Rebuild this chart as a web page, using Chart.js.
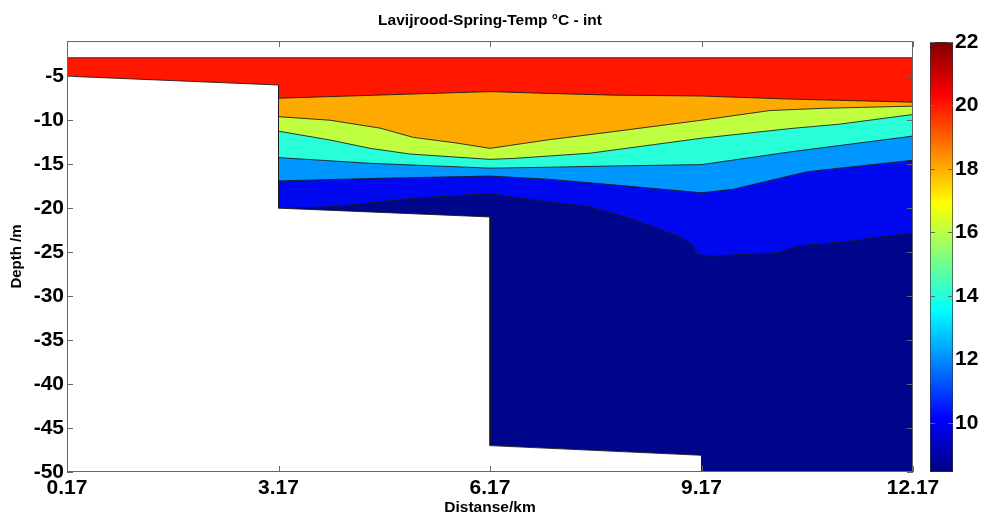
<!DOCTYPE html>
<html>
<head>
<meta charset="utf-8">
<title>Lavijrood-Spring-Temp</title>
<script src="https://cdn.jsdelivr.net/npm/chart.js@4.4.1/dist/chart.umd.min.js"></script>
<style>
  html, body { margin: 0; padding: 0; background: #fff; }
  #wrap { position: relative; width: 986px; height: 517px; }
  #section { position: absolute; left: 0; top: 0; }
  #cbar { position: absolute; left: 900px; top: 0; }
</style>
</head>
<body>
<div id="wrap">
  <canvas id="section" width="986" height="517"></canvas>
  <canvas id="cbar" width="86" height="517"></canvas>
</div>
<script>
const distTicks = [0.17, 3.17, 6.17, 9.17, 12.17];
const depthTicks = [-50, -45, -40, -35, -30, -25, -20, -15, -10, -5];

// superficie del agua
const surfaceDist = [0.17, 12.17];
const surfaceDepth = [-2.9, -2.9];

// isolíneas entre bandas de temperatura
const redOrangeDist = [3.17, 6.17, 6.98, 7.92, 9.17, 10.43, 12.17];
const redOrangeDepth = [-7.5, -6.75, -6.95, -7.15, -7.25, -7.6, -7.95];

const orangeYellowDist = [3.17, 3.90, 4.61, 5.08, 5.70, 6.17, 6.98, 7.92, 9.17, 10.14, 10.89, 12.17];
const orangeYellowDepth = [-9.6, -10.0, -10.9, -11.95, -12.6, -13.2, -12.25, -11.3, -10.0, -8.9, -8.65, -8.4];

const yellowCyanDist = [3.17, 3.90, 4.47, 5.04, 6.17, 6.50, 7.59, 9.17, 10.43, 11.13, 12.17];
const yellowCyanDepth = [-11.25, -12.25, -13.2, -13.85, -14.45, -14.35, -13.75, -12.05, -10.95, -10.45, -9.35];

const cyanLightDist = [3.17, 4.47, 6.17, 6.98, 7.92, 9.17, 10.43, 12.17];
const cyanLightDepth = [-14.25, -14.9, -15.45, -15.35, -15.2, -15.05, -13.6, -11.8];

const lightBlueDist = [3.17, 4.61, 6.17, 6.98, 7.92, 9.17, 9.62, 10.67, 12.17];
const lightBlueDepth = [-16.9, -16.6, -16.35, -16.7, -17.35, -18.25, -17.85, -15.85, -14.55];

const blueNavyDist = [3.17, 3.94, 5.04, 6.17, 6.50, 7.59, 8.16, 8.87, 9.05, 9.11, 9.33, 10.28, 10.52, 11.23, 12.17];
const blueNavyDepth = [-20.0, -19.85, -18.9, -18.35, -18.75, -19.85, -21.15, -23.25, -24.2, -25.3, -25.45, -25.05, -24.3, -23.8, -22.8];

// fondo del embalse (batimetría)
const bottomDist = [0.17, 3.17, 3.17, 6.17, 6.17, 9.17, 9.17, 12.17];
const bottomDepth = [-5.0, -6.0, -20.0, -21.0, -47.0, -48.1, -50.0, -50.0];

// barra de colores
const cbarTicks = [10, 12, 14, 16, 18, 20, 22];
const cbarMin = 8.45;
const cbarMax = 22;

// ---- Estilos ----
Chart.defaults.font.family = "'Liberation Sans', Arial, sans-serif";
Chart.defaults.color = '#000';

const jetStops = [[0, '#000080'], [0.125, '#0000ff'], [0.375, '#00ffff'], [0.625, '#ffff00'], [0.875, '#ff0000'], [1, '#800000']];
const lineColor = 'rgba(25,25,25,0.85)';
const frameColor = '#666';

function pts(xs, ys) {
    return xs.map((x, i) => ({ x: x, y: ys[i] }));
}

function band(label, xs, ys, color, order) {
    return {
        label: label,
        data: pts(xs, ys),
        order: order,
        fill: 'start',
        backgroundColor: color,
        borderColor: lineColor,
        borderWidth: 1,
        pointRadius: 0,
        tension: 0
    };
}

function jetGradient(chart) {
    const { ctx, chartArea, scales } = chart;
    if (!chartArea) return '#0000ff';
    const g = ctx.createLinearGradient(0, scales.y.getPixelForValue(cbarMin), 0, scales.y.getPixelForValue(cbarMax));
    jetStops.forEach(s => g.addColorStop(s[0], s[1]));
    return g;
}

// marco y marcas hacia dentro (estilo MATLAB)
const boxTicks = {
    id: 'boxTicks',
    afterDraw(chart, args, opts) {
        const { ctx, chartArea: a } = chart;
        const len = opts.len || 6;
        ctx.save();
        ctx.strokeStyle = frameColor;
        ctx.lineWidth = 1;
        ctx.beginPath();
        Object.values(chart.scales).forEach(s => {
            if (s.options.display === false) return;
            s.ticks.forEach(t => {
                const p = Math.round(s.getPixelForValue(t.value)) + 0.5;
                if (s.isHorizontal()) {
                    ctx.moveTo(p, a.bottom); ctx.lineTo(p, a.bottom - len);
                    ctx.moveTo(p, a.top); ctx.lineTo(p, a.top + len);
                } else {
                    ctx.moveTo(a.left, p); ctx.lineTo(a.left + len, p);
                    ctx.moveTo(a.right, p); ctx.lineTo(a.right - len, p);
                }
            });
        });
        if (opts.frame) {
            ctx.rect(a.left + 0.5, a.top + 0.5, a.right - a.left - 1, a.bottom - a.top - 1);
        }
        ctx.stroke();
        ctx.restore();
    }
};

const tickFont = { size: 21, weight: 'bold' };

// ---- Sección de temperatura ----
new Chart(document.getElementById('section'), {
    type: 'line',
    data: {
        datasets: [
            band('fondo', bottomDist, bottomDepth, '#ffffff', 0),
            band('<10', blueNavyDist, blueNavyDepth, '#00068C', 1),
            band('10-12', lightBlueDist, lightBlueDepth, '#0008F0', 2),
            band('12-14', cyanLightDist, cyanLightDepth, '#0096FF', 3),
            band('14-16', yellowCyanDist, yellowCyanDepth, '#28FFD8', 4),
            band('16-18', orangeYellowDist, orangeYellowDepth, '#BFFF40', 5),
            band('18-20', redOrangeDist, redOrangeDepth, '#FFAA00', 6),
            band('>20', surfaceDist, surfaceDepth, '#FF1700', 7)
        ]
    },
    options: {
        responsive: false,
        animation: false,
        layout: { padding: { left: 0, right: 73, top: 0, bottom: 0 } },
        plugins: {
            legend: { display: false },
            tooltip: { enabled: false },
            title: {
                display: true,
                fullSize: false,
                text: 'Lavijrood-Spring-Temp °C - int',
                font: { size: 15.5, weight: 'bold', lineHeight: 1.1 },
                color: '#000',
                padding: { top: 12, bottom: 12 }
            },
            boxTicks: { len: 6, frame: true }
        },
        scales: {
            x: {
                type: 'linear',
                min: 0.17,
                max: 12.17,
                afterBuildTicks: s => { s.ticks = distTicks.map(v => ({ value: v })); },
                afterFit: s => { s.height = 45; },
                grid: { display: false, drawTicks: false },
                border: { display: false },
                ticks: {
                    font: tickFont,
                    padding: 4,
                    autoSkip: false,
                    maxRotation: 0,
                    callback: v => v.toFixed(2)
                },
                title: {
                    display: true,
                    text: 'Distanse/km',
                    font: { size: 15.5, weight: 'bold' },
                    padding: 0
                }
            },
            y: {
                min: -50,
                max: -1,
                afterBuildTicks: s => { s.ticks = depthTicks.map(v => ({ value: v })); },
                afterFit: s => { s.width = 67; },
                grid: { display: false, drawTicks: false },
                border: { display: false },
                ticks: {
                    font: tickFont,
                    padding: 3,
                    callback: v => String(v)
                },
                title: {
                    display: true,
                    text: 'Depth /m',
                    font: { size: 15, weight: 'bold' },
                    padding: { top: 8, bottom: 0 }
                }
            }
        }
    },
    plugins: [boxTicks]
});

// ---- Barra de colores (jet continuo) ----
new Chart(document.getElementById('cbar'), {
    type: 'bar',
    data: {
        labels: [''],
        datasets: [{
            data: [[cbarMin, cbarMax]],
            backgroundColor: c => jetGradient(c.chart),
            borderColor: '#333',
            borderWidth: 1,
            borderSkipped: false,
            barPercentage: 1,
            categoryPercentage: 1
        }]
    },
    options: {
        responsive: false,
        animation: false,
        layout: { padding: { left: 30, top: 42, bottom: 45, right: 0 } },
        plugins: {
            legend: { display: false },
            tooltip: { enabled: false },
            boxTicks: { len: 5, frame: false }
        },
        scales: {
            x: { display: false },
            y: {
                position: 'right',
                min: cbarMin,
                max: cbarMax,
                afterBuildTicks: s => { s.ticks = cbarTicks.map(v => ({ value: v })); },
                afterFit: s => { s.width = 33; },
                grid: { display: false, drawTicks: false },
                border: { display: false },
                ticks: { font: tickFont, padding: 2, color: '#000' }
            }
        }
    },
    plugins: [boxTicks]
});
</script>
</body>
</html>
